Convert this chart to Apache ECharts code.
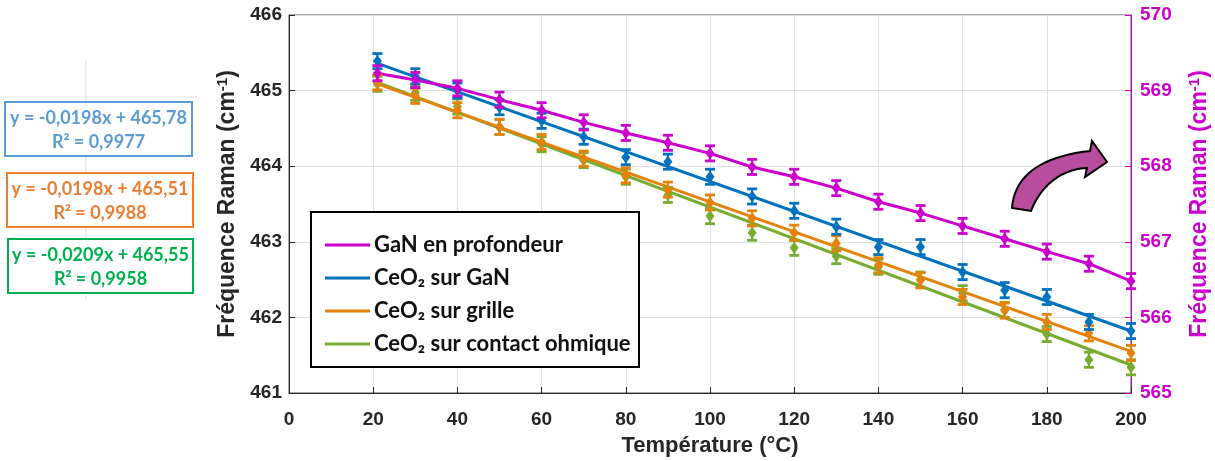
<!DOCTYPE html>
<html>
<head>
<meta charset="utf-8">
<script src="https://cdn.jsdelivr.net/npm/echarts@6/dist/echarts.min.js"></script>
<style>
html,body{margin:0;padding:0;background:#fff;}
#chart{width:1215px;height:461px;}
</style>
</head>
<body>
<div id="chart"></div>
<script>
// ---------- data ----------
const temps = [21, 30, 40, 50, 60, 70, 80, 90, 100, 110, 120, 130, 140, 150, 160, 170, 180, 190, 200];
const ganDepth = [569.23, 569.14, 569.03, 568.88, 568.74, 568.58, 568.44, 568.31, 568.17, 567.99, 567.86, 567.71, 567.53, 567.38, 567.21, 567.04, 566.87, 566.71, 566.48];
const ceoGaN = [465.39, 465.19, 465.00, 464.78, 464.60, 464.39, 464.12, 464.06, 463.86, 463.60, 463.41, 463.20, 462.93, 462.93, 462.60, 462.36, 462.27, 461.94, 461.82];
const ceoGrille = [465.11, 464.93, 464.74, 464.52, 464.32, 464.10, 463.88, 463.69, 463.52, 463.31, 463.12, 462.98, 462.69, 462.49, 462.27, 462.09, 461.94, 461.79, 461.53];
const ceoOhmic = [465.09, 464.97, 464.79, 464.52, 464.29, 464.08, 463.86, 463.62, 463.34, 463.12, 462.92, 462.81, 462.67, 462.50, 462.32, 462.10, 461.78, 461.44, 461.34];
const errGaN = 0.10, errCeoGaN = 0.10, errGrille = 0.10, errOhmic = 0.10;
// fitted lines for the CeO2 series (end points)
const fitCeoGaN = [[21, 465.36], [200, 461.82]];
const fitGrille = [[21, 465.09], [200, 461.55]];
const fitOhmic = [[21, 465.11], [200, 461.37]];
const names = ['GaN en profondeur', 'CeO₂ sur GaN', 'CeO₂ sur grille', 'CeO₂ sur contact ohmique'];
const xTicks = {min: 0, max: 200, step: 20};
const yLeftTicks = {min: 461, max: 466, step: 1};
const yRightTicks = {min: 565, max: 570, step: 1};
const equations = [
  ['y = -0,0198x + 465,78', 'R² = 0,9977'],
  ['y = -0,0198x + 465,51', 'R² = 0,9988'],
  ['y = -0,0209x + 465,55', 'R² = 0,9958']
];

// ---------- styles ----------
const C_PINK = '#CC00CC', C_BLUE = '#0072BD', C_ORANGE = '#E5820A', C_GREEN = '#77AC30';
const EQ_COLORS = ['#5B9BD5', '#ED7D31', '#00B050'];
const AX = '#262626';
const FONT = '"Liberation Sans", Arial, sans-serif';
const EQFONT = 'bold 18px Lato, "Open Sans", sans-serif';

function errRender(color) {
  return function (params, api) {
    const x = api.value(0), y = api.value(1), e = api.value(2);
    const t = api.coord([x, y + e]), b = api.coord([x, y - e]), c = api.coord([x, y]);
    const w = 5;
    return {
      type: 'group',
      children: [
        {type: 'line', shape: {x1: t[0], y1: t[1], x2: b[0], y2: b[1]}, style: {stroke: color, lineWidth: 2.2}},
        {type: 'line', shape: {x1: t[0] - w, y1: t[1], x2: t[0] + w, y2: t[1]}, style: {stroke: color, lineWidth: 2.8}},
        {type: 'line', shape: {x1: b[0] - w, y1: b[1], x2: b[0] + w, y2: b[1]}, style: {stroke: color, lineWidth: 2.8}},
        {type: 'polygon', shape: {points: [[c[0], c[1] - 6], [c[0] + 4.5, c[1]], [c[0], c[1] + 6], [c[0] - 4.5, c[1]]]}, style: {fill: color}}
      ]
    };
  };
}
function errData(vals, err) { return temps.map((t, i) => [t, vals[i], err]); }

// cubic bezier sampler for the decorative arrow outline
function bez(p0, p1, p2, p3, n) {
  const pts = [];
  for (let i = 0; i <= n; i++) {
    const t = i / n, u = 1 - t;
    pts.push([
      u * u * u * p0[0] + 3 * u * u * t * p1[0] + 3 * u * t * t * p2[0] + t * t * t * p3[0],
      u * u * u * p0[1] + 3 * u * u * t * p1[1] + 3 * u * t * t * p2[1] + t * t * t * p3[1]
    ]);
  }
  return pts;
}

const chart = echarts.init(document.getElementById('chart'), null, {renderer: 'canvas'});

const gfx = [];
const boxes = [{x: 5, y: 102, w: 187, h: 54}, {x: 7, y: 173, w: 186, h: 54}, {x: 8, y: 239, w: 185, h: 54}];
[[0, 97, 197, 97], [0, 178, 197, 178], [0, 263, 197, 263], [86, 60, 86, 300]].forEach(l => {
  gfx.push({type: 'line', shape: {x1: l[0], y1: l[1], x2: l[2], y2: l[3]}, style: {stroke: '#E3E3E3', lineWidth: 1}, z: 1});
});
boxes.forEach((bx, i) => {
  gfx.push({type: 'rect', shape: {x: bx.x, y: bx.y, width: bx.w, height: bx.h},
    style: {fill: '#fff', stroke: EQ_COLORS[i], lineWidth: 2}, z: 2});
  gfx.push({type: 'text', x: bx.x + bx.w / 2, y: bx.y + 16, z: 3,
    style: {text: equations[i][0], fill: EQ_COLORS[i], font: EQFONT, textAlign: 'center', textVerticalAlign: 'middle'}});
  gfx.push({type: 'text', x: bx.x + bx.w / 2, y: bx.y + 40, z: 3,
    style: {text: equations[i][1], fill: EQ_COLORS[i], font: EQFONT, textAlign: 'center', textVerticalAlign: 'middle'}});
});
// legend frame
gfx.push({type: 'rect', shape: {x: 311, y: 212, width: 328, height: 155},
  style: {fill: '#fff', stroke: '#000', lineWidth: 2}, z: 30});
// curved arrow
const arrowPts = []
  .concat(bez([1012, 208], [1014, 180], [1035, 157], [1090, 151], 24))
  .concat([[1092, 141], [1107, 162], [1085, 177]])
  .concat(bez([1087, 168], [1062, 169], [1041, 185], [1031, 211], 24));
gfx.push({type: 'polygon', z: 30, shape: {points: arrowPts},
  style: {fill: '#B84D9E', stroke: '#000', lineWidth: 2}});

const legendIcon = 'path://M0,0 L45,0 L45,3 L0,3 Z';
const option = {
  animation: false,
  backgroundColor: '#fff',
  grid: {left: 289, right: 84, top: 15, bottom: 68, show: true, borderColor: '#555', borderWidth: 1,
    backgroundColor: 'transparent', containLabel: false, outerBoundsMode: 'none'},
  legend: {
    data: names.map(n => ({name: n, icon: legendIcon})),
    orient: 'vertical', left: 320, top: 229, z: 40, padding: 5,
    itemWidth: 45, itemHeight: 3, itemGap: 11,
    textStyle: {fontFamily: 'Lato, "Open Sans", sans-serif', fontWeight: 'bold', fontSize: 22, lineHeight: 21, color: '#111', padding: [0, 0, 0, -1]},
    selectedMode: false
  },
  xAxis: {
    type: 'value', min: xTicks.min, max: xTicks.max, interval: xTicks.step,
    name: 'Température (°C)', nameLocation: 'middle', nameGap: 42,
    nameTextStyle: {fontFamily: FONT, fontWeight: 'bold', fontSize: 22, color: AX},
    axisLine: {lineStyle: {color: AX, width: 1}},
    axisTick: {inside: true, length: 6, lineStyle: {color: AX}},
    axisLabel: {fontFamily: FONT, fontWeight: 'bold', fontSize: 19, color: AX, margin: 17},
    splitLine: {show: true, lineStyle: {color: '#E0E0E0', width: 1}}
  },
  yAxis: [
    {
      type: 'value', min: yLeftTicks.min, max: yLeftTicks.max, interval: yLeftTicks.step, position: 'left',
      name: '{a|Fréquence Raman (cm}{s|-1}{a|)}', nameLocation: 'middle', nameGap: 48, nameRotate: 90,
      nameTextStyle: {rich: {
        a: {fontFamily: FONT, fontWeight: 'bold', fontSize: 23, color: AX},
        s: {fontFamily: FONT, fontWeight: 'bold', fontSize: 15, color: AX, verticalAlign: 'top', padding: [0, 0, 10, 0]}
      }},
      axisLine: {show: true, lineStyle: {color: AX, width: 1}},
      axisTick: {show: true, inside: true, length: 6, lineStyle: {color: AX}},
      axisLabel: {fontFamily: FONT, fontWeight: 'bold', fontSize: 19, color: AX, margin: 7},
      splitLine: {show: true, lineStyle: {color: '#E0E0E0', width: 1}}
    },
    {
      type: 'value', min: yRightTicks.min, max: yRightTicks.max, interval: yRightTicks.step, position: 'right',
      name: '{a|Fréquence Raman (cm}{s|-1}{a|)}', nameLocation: 'middle', nameGap: 56, nameRotate: 90,
      nameTextStyle: {rich: {
        a: {fontFamily: FONT, fontWeight: 'bold', fontSize: 23, color: C_PINK},
        s: {fontFamily: FONT, fontWeight: 'bold', fontSize: 15, color: C_PINK, verticalAlign: 'top', padding: [0, 0, 10, 0]}
      }},
      axisLine: {show: true, lineStyle: {color: C_PINK, width: 1}},
      axisTick: {show: true, inside: true, length: 6, lineStyle: {color: C_PINK}},
      axisLabel: {fontFamily: FONT, fontWeight: 'bold', fontSize: 19, color: C_PINK, margin: 9},
      splitLine: {show: false}
    }
  ],
  graphic: gfx,
  series: [
    {name: names[3], type: 'line', data: fitOhmic, symbol: 'none', lineStyle: {color: C_GREEN, width: 3}, itemStyle: {color: C_GREEN}, z: 2},
    {name: names[2], type: 'line', data: fitGrille, symbol: 'none', lineStyle: {color: C_ORANGE, width: 3}, itemStyle: {color: C_ORANGE}, z: 2},
    {name: names[1], type: 'line', data: fitCeoGaN, symbol: 'none', lineStyle: {color: C_BLUE, width: 3}, itemStyle: {color: C_BLUE}, z: 2},
    {name: names[0], type: 'line', yAxisIndex: 1, data: temps.map((t, i) => [t, ganDepth[i]]), symbol: 'none', lineStyle: {color: C_PINK, width: 3}, itemStyle: {color: C_PINK}, z: 2},
    {name: 'err-ohm', type: 'custom', renderItem: errRender(C_GREEN), data: errData(ceoOhmic, errOhmic), z: 3},
    {name: 'err-gri', type: 'custom', renderItem: errRender(C_ORANGE), data: errData(ceoGrille, errGrille), z: 3},
    {name: 'err-gan', type: 'custom', renderItem: errRender(C_BLUE), data: errData(ceoGaN, errCeoGaN), z: 3},
    {name: 'err-dep', type: 'custom', yAxisIndex: 1, renderItem: errRender(C_PINK), data: errData(ganDepth, errGaN), z: 3}
  ]
};
chart.setOption(option);
</script>
</body>
</html>
